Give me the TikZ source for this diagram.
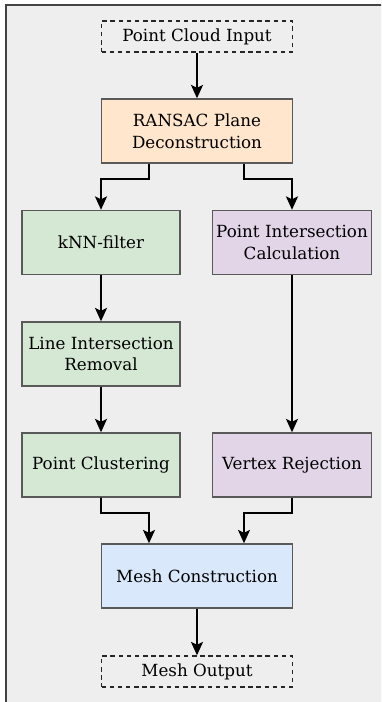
\documentclass[tikz,border=0pt]{standalone}
\usepackage{fontspec}
\setmainfont{DejaVu Serif}
\usetikzlibrary{arrows.meta}
\definecolor{framebg}{HTML}{EEEEEE}
\definecolor{frameline}{HTML}{444444}
\definecolor{boxline}{HTML}{595959}
\definecolor{ransacfill}{HTML}{FFE6CC}
\definecolor{greenfill}{HTML}{D5E8D4}
\definecolor{purplefill}{HTML}{E1D5E7}
\definecolor{bluefill}{HTML}{DAE8FC}
\tikzstyle{stageblock} = [draw=boxline, line width=1pt, minimum height=1.6cm, inner sep=0pt, align=center, font=\fontsize{11.9}{15.4}\selectfont]
\tikzstyle{ioblock} = [draw=black!85, dashed, dash pattern=on 3.2pt off 2.6pt, line width=1pt, minimum width=4.775cm, minimum height=0.775cm, inner sep=0pt, font=\fontsize{11.9}{15.4}\selectfont]
\tikzstyle{flow} = [-{Stealth[length=9.5pt, width=8.5pt, inset=2pt]}, line width=1.4pt]

\begin{document}
\begin{tikzpicture}
      \useasboundingbox (0, 0) rectangle (9.525, 17.55);
      \clip (0, 0) rectangle (9.525, 17.55);
      \draw[fill=framebg, draw=frameline, line width=1.4pt] (0.14, 17.42) rectangle (9.8, -0.3);

      \node[ioblock] (input) at (4.925, 16.6375) {Point Cloud Input};
      \node[stageblock, fill=ransacfill, minimum width=4.775cm] (ransac) at (4.925, 14.275) {RANSAC Plane\\Deconstruction};
      \node[stageblock, fill=greenfill, minimum width=3.95cm] (knn) at (2.525, 11.4875) {kNN-filter};
      \node[stageblock, fill=purplefill, minimum width=3.975cm] (pic) at (7.3, 11.4875) {Point Intersection\\Calculation};
      \node[stageblock, fill=greenfill, minimum width=3.95cm] (lir) at (2.525, 8.7) {Line Intersection\\Removal};
      \node[stageblock, fill=greenfill, minimum width=3.95cm] (cluster) at (2.525, 5.925) {Point Clustering};
      \node[stageblock, fill=purplefill, minimum width=3.975cm] (vertex) at (7.3, 5.925) {Vertex Rejection};
      \node[stageblock, fill=bluefill, minimum width=4.775cm] (mesh) at (4.925, 3.15) {Mesh Construction};
      \node[ioblock] (output) at (4.925, 0.7625) {Mesh Output};

      \draw[flow] (input) -- (ransac);
      \draw[flow] ([xshift=-1.2cm]ransac.south) |- (2.525, 13.075) -- (knn);
      \draw[flow] ([xshift=1.175cm]ransac.south) |- (7.3, 13.075) -- (pic);
      \draw[flow] (knn) -- (lir);
      \draw[flow] (lir) -- (cluster);
      \draw[flow] (pic) -- (vertex);
      \draw[flow] (cluster) |- (3.725, 4.725) -- ([xshift=-1.2cm]mesh.north);
      \draw[flow] (vertex) |- (6.1, 4.725) -- ([xshift=1.175cm]mesh.north);
      \draw[flow] (mesh) -- (output);
    \end{tikzpicture}
\end{document}
